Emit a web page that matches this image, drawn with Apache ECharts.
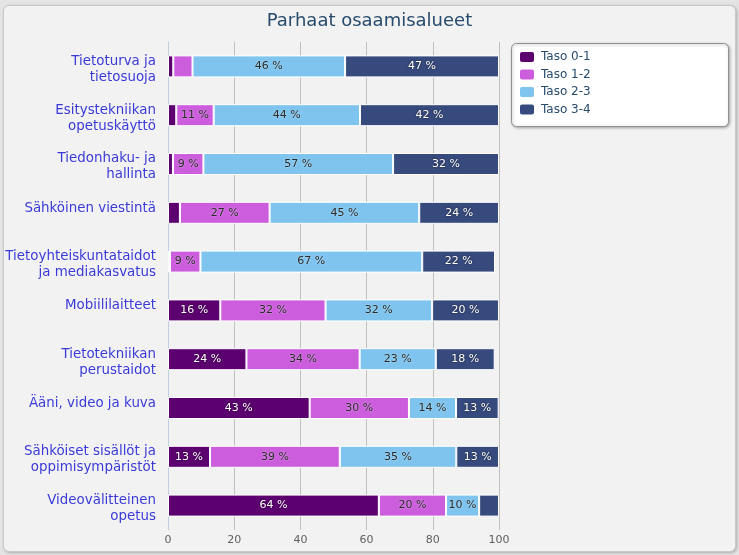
<!DOCTYPE html>
<html><head><meta charset="utf-8">
<script src="https://cdn.jsdelivr.net/npm/echarts@6/dist/echarts.min.js"></script>
<style>
html,body{margin:0;padding:0;background:#e4e4e4;}
#wrap{position:absolute;left:3px;top:5px;width:731px;height:545px;background:#f2f2f2;border:1px solid #c9c9c9;border-radius:6px;box-shadow:1px 1px 3px rgba(0,0,0,0.25);}
#chart{position:absolute;left:-4px;top:-6px;width:739px;height:555px;}
</style></head>
<body><div id="wrap"><div id="chart"></div></div>
<script>
const title = 'Parhaat osaamisalueet';
const categories = [
  'Tietoturva ja\ntietosuoja',
  'Esitystekniikan\nopetuskäyttö',
  'Tiedonhaku- ja\nhallinta',
  'Sähköinen viestintä',
  'Tietoyhteiskuntataidot\nja mediakasvatus',
  'Mobiililaitteet',
  'Tietotekniikan\nperustaidot',
  'Ääni, video ja kuva',
  'Sähköiset sisällöt ja\noppimisympäristöt',
  'Videovälitteinen\nopetus'
];
const seriesNames = ['Taso 0-1', 'Taso 1-2', 'Taso 2-3', 'Taso 3-4'];
const taso01 = [1.6, 2.5, 1.5, 3.6, 0.6, 15.8, 23.7, 42.8, 12.7, 63.7];
const taso12 = [5.8, 11.3, 9.2, 27.1, 9.2, 31.8, 34.2, 30.0, 39.2, 20.3];
const taso23 = [46.1, 44.2, 57.3, 45.2, 67.0, 32.2, 23.0, 14.2, 35.2, 10.0];
const taso34 = [46.5, 42.0, 32.0, 24.1, 22.0, 20.2, 17.8, 12.9, 12.9, 6.0];
const xTicks = [0, 20, 40, 60, 80, 100];

const colors = ['#5c0070', '#cc5ddd', '#7ec4ee', '#374a7d'];
const labelColors = ['#ffffff', '#2a2a2a', '#2a2a2a', '#ffffff'];
const labelShadows = ['rgba(0,0,0,0.7)', 'rgba(255,255,255,0.6)', 'rgba(255,255,255,0.6)', 'rgba(0,0,0,0.7)'];
const data = [taso01, taso12, taso23, taso34];
const font = '"DejaVu Sans", Verdana, sans-serif';

const chart = echarts.init(document.getElementById('chart'));
chart.setOption({
  backgroundColor: 'transparent',
  animation: false,
  textStyle: {fontFamily: font},
  title: {text: title, left: 'center', top: 7,
    textStyle: {fontFamily: font, fontSize: 18, fontWeight: 'normal', color: '#274b6d'}},
  graphic: [{type: 'rect', left: 511, top: 43, shape: {width: 217, height: 83, r: 5},
    style: {fill: '#ffffff', stroke: '#909090', lineWidth: 1, shadowBlur: 3, shadowColor: 'rgba(0,0,0,0.3)', shadowOffsetX: 1, shadowOffsetY: 1}, z: 0}],
  legend: {orient: 'vertical', left: 513, top: 45, padding: 5, itemGap: 3.5, itemWidth: 16, itemHeight: 12,
    icon: 'roundRect', data: seriesNames, z: 10,
    textStyle: {fontFamily: font, fontSize: 12, color: '#274b6d', padding: [0, 0, 0, 1]}},
  grid: {left: 168, right: 240, top: 42, bottom: 25, containLabel: false},
  xAxis: {type: 'value', min: xTicks[0], max: xTicks[xTicks.length - 1], interval: 20,
    axisLine: {show: false}, axisTick: {show: false},
    axisLabel: {color: '#606060', fontSize: 11, fontFamily: font, margin: 5},
    splitLine: {lineStyle: {color: '#c0c0c0', width: 1}}},
  yAxis: {type: 'category', inverse: true, data: categories,
    axisLine: {lineStyle: {color: '#c0d0e0'}},
    axisTick: {length: 6, lineStyle: {color: '#c0d0e0'}},
    axisLabel: {color: '#3a3ad8', fontSize: 13.4, fontFamily: font, lineHeight: 16, margin: 12, align: 'right',
      padding: [6, 0, 0, 0],
      formatter: v => v.indexOf('\n') >= 0 ? v : '{s|' + v + '}',
      rich: {s: {color: '#3a3ad8', fontSize: 13.4, fontFamily: font, lineHeight: 16, padding: [0, 0, 15, 0]}}}},
  series: seriesNames.map((n, i) => ({
    name: n, type: 'bar', stack: 'all', data: data[i], barWidth: 22,
    itemStyle: {color: colors[i], borderColor: '#ffffff', borderWidth: 1},
    label: {show: true, position: 'inside', fontSize: 11, fontFamily: font, color: labelColors[i],
      textShadowColor: labelShadows[i], textShadowBlur: 2,
      formatter: p => p.value >= 8 ? Math.round(p.value) + ' %' : ''}
  }))
});
</script></body></html>
